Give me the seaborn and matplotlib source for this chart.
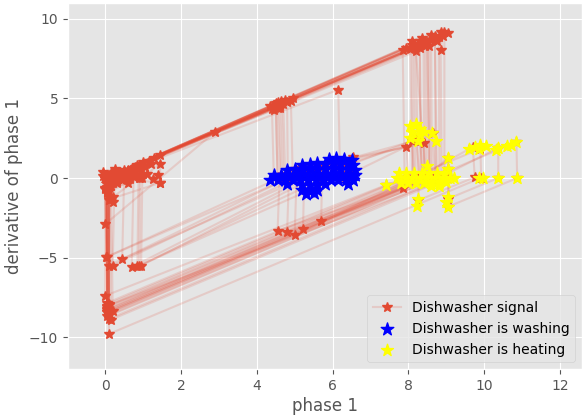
import matplotlib
matplotlib.use("Agg")
import matplotlib.pyplot as plt
import seaborn as sns

# ---------------- data ----------------
# signal trajectory split into cycles: phase value and its derivative
phase_cycles = [
    [-0.05, 0.00, 0.05, 0.10, 0.15, 0.20, 0.25, 0.30, 0.40, 0.50, 0.60, 0.70, 0.80, 0.90,
     0.05, 0.10, 0.15, 0.20, 0.30, 0.40, 0.50, 0.60, 0.70, 0.85, 1.00, 1.15, 1.30, 1.45,
     0.00, 0.05, 0.10, 0.15, 0.20, 0.00, 0.10, 0.20, 0.95, 1.10, 1.25, 1.40, 1.45,
     0.35, 0.55, 0.75, 0.45, 0.65, 0.25, -0.05, 0.05, 0.30, 0.50, 0.70, 0.90, 1.05, 1.20],
    [0.05, 4.55, 4.62, 5.10, 5.60, 5.80, 8.20, 8.30, 8.35, 0.05, 0.06],
    [0.03, 8.50, 8.55, 8.60, 0.10, 0.08],
    [0.05, 4.70, 4.75, 5.30, 6.10, 6.40, 0.90, 0.92, 0.60, 0.30, 0.10],
    [0.10, 8.30, 8.35, 8.45, 7.85, 4.55, 4.60, 5.20, 5.55, 0.45, 0.50, 0.20, 0.05],
    [0.02, 8.70, 8.75, 0.05, 0.04],
    [0.00, 2.90, 0.00, 0.02],
    [0.05, 4.90, 4.95, 5.70, 0.20, 0.25, 0.10],
    [0.00, 8.05, 8.10, 9.90, 9.92, 0.10, 0.12],
    [0.10, 0.60, 6.15, 6.20, 6.50, 8.65, 8.70, 4.80, 4.85, 5.00, 0.03, 0.05],
    [0.00, 8.80, 8.82, 10.37, 10.37, 9.05, 9.05, 0.15, 0.12],
    [0.05, 4.40, 4.45, 5.00, 5.80, 8.10, 8.15, 5.00, 5.05, 6.30, 0.70, 0.75, 1.00, 0.05],
    [0.00, 8.60, 8.62, 10.85, 10.87, 9.05, 9.07, 0.10, 0.10],
    [0.00, 8.40, 8.42, 9.05, 9.05, 5.22, 5.25, 6.55, 0.95, 0.98, 1.45, 1.45, 0.10, 0.05],
    [0.00, 8.20, 8.25, 9.70, 9.75, 8.26, 8.28, 0.08, 0.07],
    [0.00, 8.90, 8.85, 8.88, 5.70, 5.72, 6.40, 0.85, 0.88, 0.05],
    [0.00, 4.60, 4.65, 5.40, 6.00, 8.30, 8.40, 7.40, 0.00, 0.02],
    [0.00, 8.50, 8.55, 0.20, 0.15],
    [0.00, 4.80, 4.82, 6.00, 7.95, 8.00, 0.10, 0.10],
    [0.00, 8.30, 8.32, 0.05, 0.05],
    [0.00, 8.95, 8.95, 0.10, 0.10],
    [0.00, 8.15, 8.18, 0.05, 0.05],
    [0.00, 8.70, 8.72, 0.10, 0.10],
    [0.00, 7.85, 7.90, 0.05, 0.05],
    [0.00, 8.55, 8.58, 0.10, 0.10],
    [0.00, 4.65, 4.70, 5.60, 0.10, 0.10],
    [0.00, 4.50, 4.55, 6.20, 8.40, 8.45, 0.05, 0.05],
    [0.00, 7.95, 8.10, 8.35, 8.60, 8.85, 9.05, 8.75, 8.45, 8.20, 8.45, 0.05, 0.00],
    [0.00, 4.35, 4.55, 4.75, 4.95, 4.60, 4.45, 4.50, 4.55, 5.00, 0.05, 0.00],
    [0.00, 8.10, 8.12, 0.05, 0.00],
    [0.00, 8.45, 8.48, 0.10, 0.00],
]
deriv_cycles = [
    [0.10, 0.00, -0.10, 0.20, 0.30, 0.00, 0.35, 0.10, 0.40, 0.50, 0.45, 0.60, 0.70, 0.75,
     -0.40, -0.30, -0.50, -0.25, -0.20, 0.00, 0.10, 0.20, 0.30, 0.85, 1.00, 1.10, 1.25, 1.45,
     -0.70, -0.90, -1.10, -1.30, -1.50, -0.60, -0.80, -1.20, 0.10, 0.25, -0.05, 0.20, -0.30,
     0.00, 0.05, 0.20, -0.15, -0.05, 0.55, 0.40, -0.55, -0.10, 0.30, 0.40, 0.55, 0.70, 0.90],
    [0.02, 4.40, 0.07, 0.48, 0.50, 0.20, 2.45, 0.10, 0.05, -8.30, 0.01],
    [-0.03, 8.47, 0.05, 0.05, -8.50, -0.02],
    [-0.03, 4.65, 0.05, 0.55, 0.80, 0.30, -5.50, 0.02, -0.32, -0.30, -0.20],
    [0.00, 8.20, 0.05, 0.10, -0.60, -3.30, 0.05, 0.60, 0.35, -5.10, 0.05, -0.30, -0.15],
    [0.00, 8.75, 0.05, -8.70, -0.01],
    [0.00, 2.90, -2.90, 0.02],
    [0.00, 4.85, 0.05, 0.75, -5.50, 0.05, -0.15],
    [0.00, 8.10, 0.05, 1.85, 0.02, -9.80, 0.02],
    [0.00, 0.50, 5.55, 0.05, 0.30, 2.80, 0.05, -3.40, 0.05, 0.15, -4.97, 0.02],
    [0.00, 8.85, 0.02, 1.90, 0.00, -1.30, 0.00, -8.90, -0.03],
    [0.00, 4.35, 0.05, 0.55, 0.80, 2.30, 0.05, -3.60, 0.05, 1.20, -5.60, 0.05, 0.25, -0.95],
    [0.00, 8.65, 0.02, 2.25, 0.00, -1.80, 0.02, -8.00, 0.00],
    [0.00, 8.45, 0.02, 1.25, 0.55, -3.20, 0.05, 1.30, -5.50, 0.03, 0.90, -0.30, -1.35, -0.05],
    [0.00, 8.25, 0.05, 1.95, 0.05, -1.40, 0.02, -8.20, 0.00],
    [0.00, 8.90, 8.05, -0.02, -2.70, 0.02, 0.70, -5.55, 0.03, -0.80],
    [0.00, 4.55, 0.05, 0.60, 0.60, 2.30, 0.05, -0.45, -7.40, 0.02],
    [0.00, 8.55, 0.05, -8.35, -0.05],
    [0.00, 4.75, 0.02, 1.00, 1.95, 0.05, -7.90, 0.00],
    [0.00, 8.60, 0.02, -8.25, 0.00],
    [0.00, 9.15, 0.02, -8.85, 0.00],
    [0.00, 8.45, 0.02, -8.10, 0.00],
    [0.00, 8.95, 0.02, -8.60, 0.00],
    [0.00, 8.05, 0.02, -7.85, 0.00],
    [0.00, 8.30, 0.02, -8.45, 0.00],
    [0.00, 4.85, 0.05, 0.90, -5.50, 0.00],
    [0.00, 4.65, 0.02, 1.00, 2.20, 0.05, -8.40, 0.00],
    [0.00, 8.20, 8.60, 8.80, 9.00, 9.20, 9.10, 8.60, 8.30, 8.00, 0.02, -8.40, 0.00],
    [0.00, 4.50, 4.75, 4.90, 5.00, 4.40, 4.30, 4.70, 0.05, 0.45, -4.95, 0.00],
    [0.00, 8.35, 0.02, -8.05, 0.00],
    [0.00, 8.40, 0.02, -8.35, 0.00],
]

# samples labelled "washing"
wash_phase = [
    5.90, 6.10, 6.30, 6.50,
    5.20, 5.40, 5.60, 5.80, 6.00, 6.20, 6.40, 6.55,
    4.80, 5.00, 5.20, 5.40, 5.60, 5.80, 6.00, 6.20, 6.40, 6.60,
    4.45, 4.65, 4.85, 5.05, 5.25, 5.45, 5.65, 5.85, 6.05, 6.25, 6.45, 6.60,
    4.35, 4.55, 4.75, 4.95, 5.15, 5.35, 5.55, 5.75, 5.95, 6.15, 6.35, 6.55,
    4.80, 5.20, 5.40, 5.60, 5.80, 6.40,
    5.20, 5.40, 5.60, 5.30, 5.50,
]
wash_dphase = [
    1.20, 1.25, 1.20, 1.15,
    0.85, 0.90, 0.95, 0.90, 0.95, 0.90, 0.90, 0.85,
    0.50, 0.55, 0.55, 0.60, 0.55, 0.55, 0.60, 0.55, 0.55, 0.50,
    0.20, 0.20, 0.20, 0.20, 0.25, 0.20, 0.20, 0.25, 0.20, 0.20, 0.20, 0.20,
    -0.10, -0.15, -0.15, -0.15, -0.15, -0.15, -0.15, -0.10, -0.15, -0.15, -0.10, -0.10,
    -0.40, -0.45, -0.45, -0.45, -0.40, -0.35,
    -0.75, -0.80, -0.75, -1.00, -0.95,
]

# samples labelled "heating"
heat_phase = [
    8.05, 8.20, 8.30, 8.10, 8.30, 8.05, 8.25, 8.40,
    8.63, 8.72,
    7.75, 7.95, 8.15, 8.35, 8.55, 8.75, 8.95,
    7.70, 7.90, 8.10, 8.30, 8.50, 8.70, 8.90, 9.10, 9.20,
    7.80, 8.00, 8.20, 8.40, 8.60, 8.80, 9.00,
    8.60, 8.80,
    8.50, 9.05, 9.05, 7.40,
    8.26, 8.23, 9.05, 9.05, 9.00,
    9.60, 9.75, 9.90, 10.05, 9.85, 10.37, 10.30, 10.70, 10.85, 10.60,
    9.85, 9.97, 10.37, 10.87,
]
heat_dphase = [
    3.30, 3.40, 3.10, 2.90, 2.70, 2.50, 2.30, 2.90,
    2.80, 2.30,
    0.30, 0.30, 0.30, 0.30, 0.30, 0.30, 0.25,
    0.00, 0.00, 0.00, 0.00, 0.00, 0.00, 0.00, 0.00, 0.00,
    -0.30, -0.30, -0.30, -0.30, -0.30, -0.30, -0.25,
    -0.50, -0.50,
    0.75, 0.55, 1.25, -0.45,
    -1.30, -1.75, -1.20, -1.80, -1.50,
    1.80, 1.95, 2.05, 2.00, 1.85, 1.90, 1.75, 2.10, 2.25, 2.00,
    0.00, 0.00, 0.00, 0.00,
]

labels = ["Dishwasher signal", "Dishwasher is washing", "Dishwasher is heating"]

# ---------------- plotting ----------------
plt.style.use("ggplot")
red = "#E24A33"
faint_red = (0.886, 0.290, 0.200, 0.17)

fig = plt.figure(figsize=(5.82, 4.15), dpi=100)
ax = fig.add_axes([68 / 582, 1 - 369 / 415, 514 / 582, 366 / 415])

for i, (px, py) in enumerate(zip(phase_cycles, deriv_cycles)):
    sns.lineplot(x=px, y=py, sort=False, estimator=None, ax=ax,
                 color=faint_red, linewidth=1.5,
                 marker="*", markersize=7.5, markerfacecolor=red,
                 markeredgecolor=red, markeredgewidth=1,
                 label=labels[0] if i == 0 else None)

sns.scatterplot(x=wash_phase, y=wash_dphase, marker="*", color="blue",
                edgecolor="blue", linewidth=1, s=90, ax=ax, label=labels[1],
                zorder=3)
sns.scatterplot(x=heat_phase, y=heat_dphase, marker="*", color="yellow",
                edgecolor="yellow", linewidth=1, s=80, ax=ax, label=labels[2],
                zorder=3)

ax.set_xlim(-0.98, 12.58)
ax.set_ylim(-12, 11)
ax.set_xticks([0, 2, 4, 6, 8, 10, 12])
ax.set_yticks([-10, -5, 0, 5, 10])
ax.set_xlabel("phase 1", labelpad=3)
ax.set_ylabel("derivative of phase 1")
ax.legend(loc="lower right")

fig.savefig("out.png", dpi=100)
